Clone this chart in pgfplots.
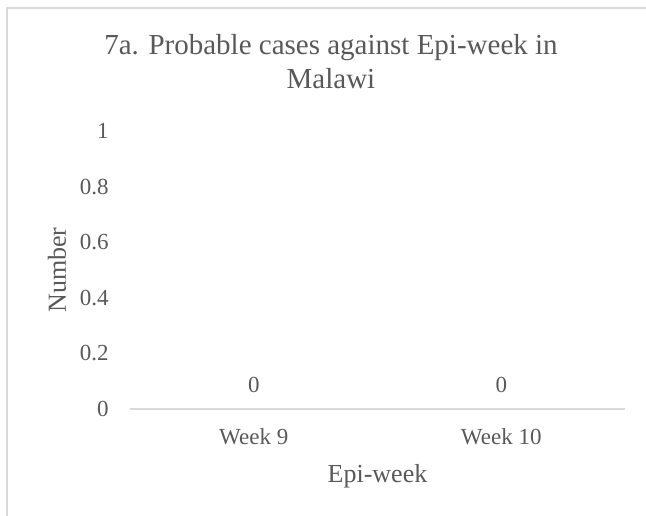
\documentclass[border=0pt]{standalone}
\usepackage{pgfplots}
\pgfplotsset{compat=1.18}
\usepackage{fontspec}
\setmainfont{Liberation Serif}
\definecolor{txt}{HTML}{595959}
\definecolor{grid}{HTML}{D9D9D9}
\pgfplotsset{/pgf/number format/assume math mode=true}
\begin{document}
\begin{tikzpicture}[x=0.75pt,y=0.75pt]
\path[use as bounding box] (0,0) rectangle (646,516);
\draw[grid, line width=0.9pt] (7,-10) -- (7,508) -- (660,508);
\begin{axis}[
  at={(97.5pt,80.25pt)}, anchor=south west,
  scale only axis, width=371.25pt, height=208.5pt,
  xmin=-0.5, xmax=1.5, ymin=0, ymax=1,
  axis x line=bottom, axis y line=left,
  axis line style={-},
  x axis line style={draw=grid, line width=1pt},
  y axis line style={draw=none},
  major tick length=0pt,
  xtick=data, xticklabels={Week 9, Week 10},
  ytick={0,0.2,0.4,0.6,0.8,1},
  yticklabel style={/pgf/number format/fixed, /pgf/number format/precision=1},
  ticklabel style={font=\fontsize{17.25}{20}\selectfont, text=txt, inner sep=0pt},
  yticklabel style={anchor=east, xshift=-15.75pt},
  xticklabel style={anchor=base, yshift=-27pt},
  xlabel={Epi-week}, ylabel={Number},
  label style={font=\fontsize{19.5}{22}\selectfont, text=txt, inner sep=0pt},
  xlabel style={at={(axis description cs:0.5,0)}, anchor=base, yshift=-55.5pt},
  ylabel style={at={(axis description cs:-0.1475,0.5)}, anchor=center},
  title={7a. Probable cases against Epi-week in\\Malawi},
  title style={at={(axis description cs:0.406,1)}, anchor=north, yshift=67pt,
    align=center, inner sep=0pt, font=\fontsize{21.75}{25.5}\selectfont, text=txt},
  clip=false,
]
\addplot[ybar, bar width=60pt, fill=none, draw=none,
  nodes near coords,
  nodes near coords style={anchor=base, inner sep=0pt, yshift=12pt,
    font=\fontsize{17.25}{20}\selectfont, text=txt}]
  coordinates {(0,0) (1,0)};
\end{axis}
\end{tikzpicture}
\end{document}
